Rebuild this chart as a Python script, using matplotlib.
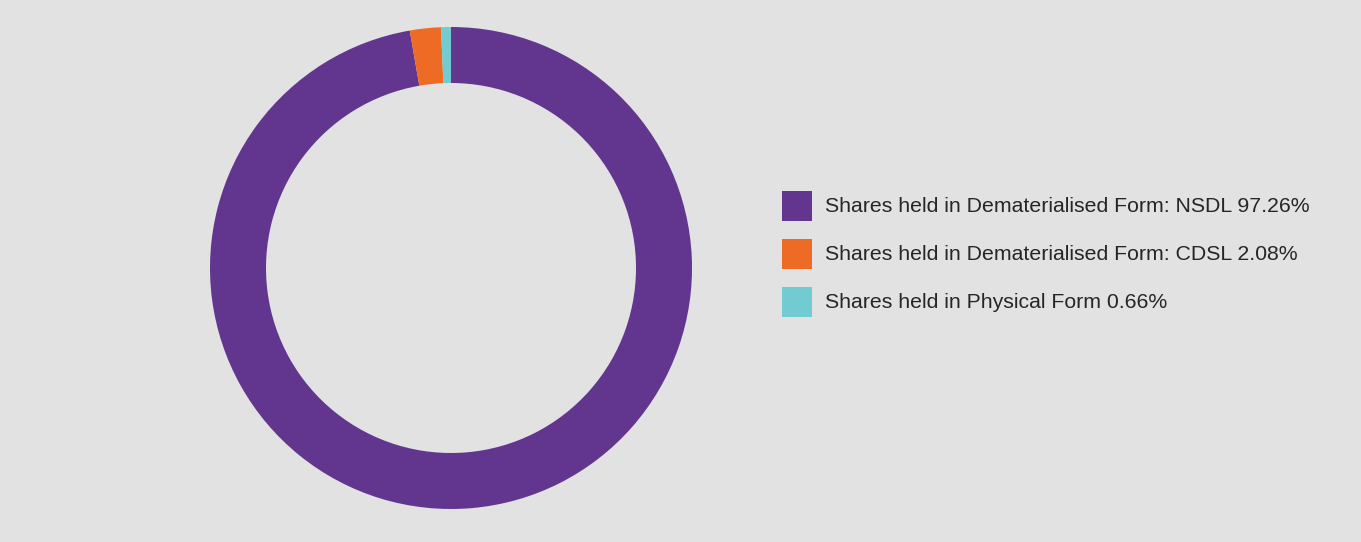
import matplotlib.pyplot as plt
from matplotlib.patches import Rectangle

# ── data ──────────────────────────────────────────────────────────────
labels = [
    "Shares held in Dematerialised Form: NSDL 97.26%",
    "Shares held in Dematerialised Form: CDSL 2.08%",
    "Shares held in Physical Form 0.66%",
]
shares = [97.26, 2.08, 0.66]
colors = ["#62358f", "#ee6b25", "#72cbd1"]

BG = "#e2e2e2"
W, H = 1361, 542

plt.rcParams["font.family"] = ["Liberation Sans", "DejaVu Sans"]

fig = plt.figure(figsize=(W / 100, H / 100), dpi=100, facecolor=BG)

# ── donut ─────────────────────────────────────────────────────────────
cx, cy, r_out, r_in = 451, 268, 241, 185
ax = fig.add_axes([(cx - r_out) / W, (H - cy - r_out) / H, 2 * r_out / W, 2 * r_out / H])
ax.set_facecolor(BG)
ax.pie(
    shares,
    colors=colors,
    startangle=90,
    counterclock=False,
    radius=1,
    wedgeprops=dict(width=(r_out - r_in) / r_out, edgecolor="none"),
)
ax.set_xlim(-1, 1)
ax.set_ylim(-1, 1)
ax.set_aspect("equal")
ax.axis("off")

# ── legend (manual) ───────────────────────────────────────────────────
box_x, box_w = 782, 30
text_x = 825
row_y = [206, 254, 302]
for lbl, col, y in zip(labels, colors, row_y):
    fig.patches.append(
        Rectangle(
            (box_x / W, (H - y - box_w / 2) / H),
            box_w / W,
            box_w / H,
            transform=fig.transFigure,
            facecolor=col,
            edgecolor="none",
        )
    )
    fig.text(text_x / W, (H - y - 1) / H, lbl, fontsize=15.3, color="#262626", va="center", ha="left")

fig.savefig("out.png", dpi=100, facecolor=BG)
